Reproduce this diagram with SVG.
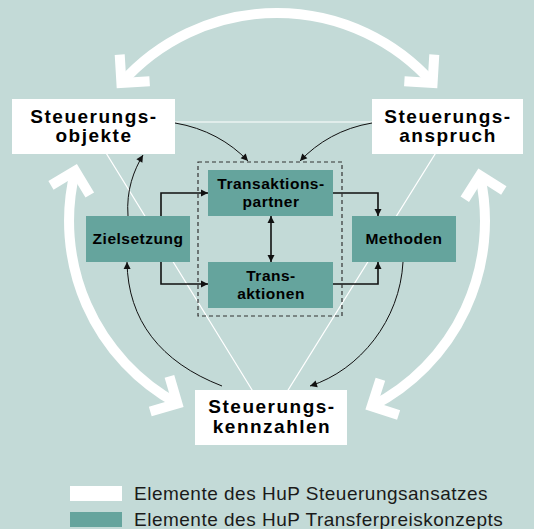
<svg xmlns="http://www.w3.org/2000/svg" width="534" height="529" viewBox="0 0 534 529">
<style>
.bg{fill:#c3dad7}
.wbox{fill:#ffffff}
.tbox{fill:#65a49d}
.wt{font-family:"Liberation Sans",Arial,sans-serif;font-weight:bold;font-size:19px;letter-spacing:1.5px;fill:#000;text-anchor:middle}
.tt{font-family:"Liberation Sans",Arial,sans-serif;font-weight:bold;font-size:15.5px;letter-spacing:0.5px;fill:#000;text-anchor:middle}
.lg{font-family:"Liberation Sans",Arial,sans-serif;font-size:19px;letter-spacing:0.5px;fill:#1a1a1a}
.big{fill:none;stroke:#fff;stroke-width:10}
.ortho{fill:none;stroke:#111;stroke-width:1.6}
.curve{fill:none;stroke:#111;stroke-width:1}
</style>
<defs>
<marker id="chevE" markerUnits="userSpaceOnUse" orient="auto" refX="0" refY="0" markerWidth="10" markerHeight="10" overflow="visible">
<path d="M-20,-20 L0,0 L-20,20" fill="none" stroke="#fff" stroke-width="10" stroke-linejoin="miter"/>
</marker>
<marker id="chevS" markerUnits="userSpaceOnUse" orient="auto" refX="0" refY="0" markerWidth="10" markerHeight="10" overflow="visible">
<path d="M20,-20 L0,0 L20,20" fill="none" stroke="#fff" stroke-width="10" stroke-linejoin="miter"/>
</marker>
<marker id="arrE" markerUnits="userSpaceOnUse" orient="auto" refX="0" refY="0" markerWidth="10" markerHeight="10" overflow="visible">
<path d="M0,0 L-7,-3.5 L-7,3.5 Z" fill="#111"/>
</marker>
<marker id="arrS" markerUnits="userSpaceOnUse" orient="auto" refX="0" refY="0" markerWidth="10" markerHeight="10" overflow="visible">
<path d="M0,0 L7,-3.5 L7,3.5 Z" fill="#111"/>
</marker>
</defs>
<rect class="bg" x="0" y="0" width="534" height="529"/>

<g id="triangle">
<polygon points="87,122 455,122 270,419" fill="none" stroke="#fff" stroke-width="1.2"/>
</g>

<g id="connectors">
<path class="big" d="M121.4,82.9 A208,208 0 0,1 432.6,82.9" marker-start="url(#chevS)" marker-end="url(#chevE)"/>
<path class="big" d="M75.2,170.8 A208,208 0 0,0 177.4,403.6" marker-start="url(#chevS)" marker-end="url(#chevE)"/>
<path class="big" d="M479.9,175.3 A208,208 0 0,1 371.7,406.2" marker-start="url(#chevS)" marker-end="url(#chevE)"/>
<path class="ortho" d="M161,216 V193 H208" marker-end="url(#arrE)"/>
<path class="ortho" d="M161,262 V284 H208" marker-end="url(#arrE)"/>
<path class="ortho" d="M333,193 H378 V216" marker-end="url(#arrE)"/>
<path class="ortho" d="M333,284 H378 V262" marker-end="url(#arrE)"/>
<path class="ortho" d="M271,216 V262" marker-start="url(#arrS)" marker-end="url(#arrE)"/>
<path class="curve" d="M175,123 C205,128 230,142 248,161" marker-end="url(#arrE)"/>
<path class="curve" d="M372,123 C342,128 318,142 300,161" marker-end="url(#arrE)"/>
<path class="curve" d="M128,216 C126,190 134,170 143,155" marker-end="url(#arrE)"/>
<path class="curve" d="M222,386 C160,362 128,320 127,262" marker-end="url(#arrE)"/>
<path class="curve" d="M403,262 C400,320 360,370 310,386" marker-end="url(#arrE)"/>
</g>

<g id="group-box">
<rect x="198" y="162" width="144" height="154" fill="none" stroke="#333" stroke-width="1.2" stroke-dasharray="4,3"/>
</g>

<g id="steuerungsobjekte">
<rect class="wbox" x="12" y="99" width="163" height="55"/>
<text class="wt" x="94" y="123">Steuerungs-</text>
<text class="wt" x="94" y="142">objekte</text>
</g>
<g id="steuerungsanspruch">
<rect class="wbox" x="372" y="99" width="151" height="55"/>
<text class="wt" x="448" y="123">Steuerungs-</text>
<text class="wt" x="448" y="142">anspruch</text>
</g>
<g id="steuerungskennzahlen">
<rect class="wbox" x="195" y="390" width="152" height="55"/>
<text class="wt" x="272" y="413">Steuerungs-</text>
<text class="wt" x="272" y="433">kennzahlen</text>
</g>
<g id="transaktionspartner">
<rect class="tbox" x="208" y="170" width="125" height="46"/>
<text class="tt" x="271" y="189">Transaktions-</text>
<text class="tt" x="271" y="207">partner</text>
</g>
<g id="transaktionen">
<rect class="tbox" x="208" y="262" width="125" height="46"/>
<text class="tt" x="271" y="281">Trans-</text>
<text class="tt" x="271" y="299">aktionen</text>
</g>
<g id="zielsetzung">
<rect class="tbox" x="86" y="216" width="104" height="46"/>
<text class="tt" x="138" y="244">Zielsetzung</text>
</g>
<g id="methoden">
<rect class="tbox" x="352" y="216" width="104" height="46"/>
<text class="tt" x="404" y="244">Methoden</text>
</g>

<g id="legend">
<rect class="wbox" x="70" y="486" width="52" height="15"/>
<text class="lg" x="134" y="500">Elemente des HuP Steuerungsansatzes</text>
<rect class="tbox" x="70" y="512" width="52" height="15"/>
<text class="lg" x="134" y="526">Elemente des HuP Transferpreiskonzepts</text>
</g>
</svg>
